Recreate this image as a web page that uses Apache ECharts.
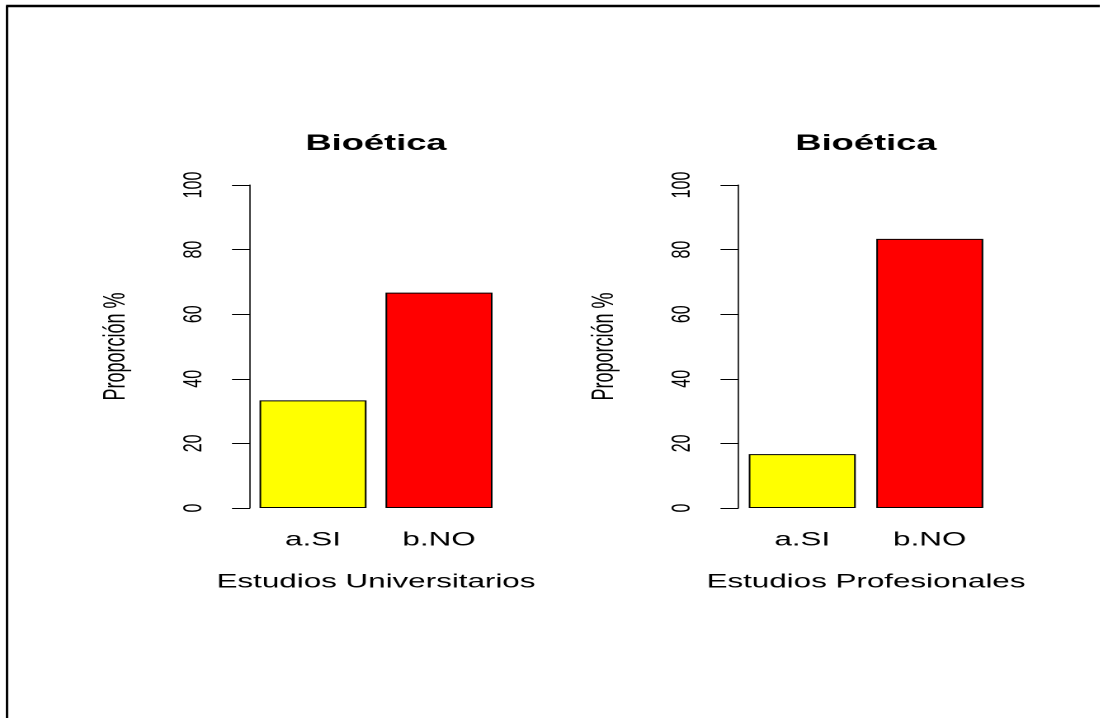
<!DOCTYPE html>
<html>
<head>
<meta charset="utf-8">
<script src="https://cdn.jsdelivr.net/npm/echarts@6/dist/echarts.min.js"></script>
<style>
  html, body { margin: 0; padding: 0; background: #ffffff; overflow: hidden; }
  #wrap { width: 1100px; height: 718px; position: relative; overflow: hidden; background: #fff; }
  #chart { position: absolute; left: 0; top: 0; height: 718px; transform-origin: 0 0; }
</style>
</head>
<body>
<div id="wrap"><div id="chart"></div></div>
<script>
// ---- data ----
const categories = ['a.SI', 'b.NO'];
const universitarios = [33.33, 66.67];
const profesionales = [16.67, 83.33];
const barColors = ['#FFFF00', '#FF0000'];
const panelTitles = ['Bioética', 'Bioética'];
const xNames = ['Estudios Universitarios', 'Estudios Profesionales'];
const yName = 'Proporción %';
const yMin = 0, yMax = 100, yStep = 20;

// the reference is horizontally stretched; draw narrower and stretch the canvas
const SX = 1.65;
const px = x => x / SX;
const el = document.getElementById('chart');
el.style.width = (1100 / SX) + 'px';
el.style.transform = 'scaleX(' + SX + ')';

const FONT = 'Liberation Sans, Arial, sans-serif';
const chart = echarts.init(el, null, { renderer: 'canvas', devicePixelRatio: 2 });

const panels = [
  { left: 250, width: 252, values: universitarios },
  { left: 738.5, width: 255, values: profesionales }
];

const grids = panels.map(p => ({ left: px(p.left), width: px(p.width), top: 185, height: 323 }));

const xAxes = panels.map((p, i) => ({
  type: 'category', gridIndex: i, data: categories,
  axisLine: { show: false }, axisTick: { show: false },
  axisLabel: { color: '#000', fontFamily: FONT, fontSize: 19, margin: 23 },
  name: xNames[i], nameLocation: 'middle', nameGap: 65,
  nameTextStyle: { color: '#000', fontFamily: FONT, fontSize: 19 }
}));

const yAxes = panels.map((p, i) => ({
  type: 'value', gridIndex: i, min: yMin, max: yMax, interval: yStep,
  splitLine: { show: false },
  axisLine: { show: true, lineStyle: { color: '#222', width: 0.9 } },
  axisTick: { show: true, length: px(18), lineStyle: { color: '#000', width: 1 } },
  axisLabel: { color: '#000', fontFamily: FONT, fontSize: 16, rotate: 90, margin: 26 },
  name: yName, nameLocation: 'middle', nameRotate: 90, nameGap: 72,
  nameTextStyle: { color: '#000', fontFamily: FONT, fontSize: 18 }
}));

const series = panels.map((p, i) => ({
  type: 'bar', xAxisIndex: i, yAxisIndex: i,
  barWidth: px(107),
  data: p.values.map((v, j) => ({ value: v, itemStyle: { color: barColors[j] } })),
  itemStyle: { borderColor: '#000', borderWidth: 1 },
  emphasis: { disabled: true },
  animation: false
}));

const titles = panels.map((p, i) => ({
  text: panelTitles[i],
  left: px(p.left + p.width / 2), top: 133, textAlign: 'center', padding: 0,
  textStyle: { color: '#000', fontFamily: FONT, fontSize: 22, fontWeight: 'bold' }
}));

chart.setOption({
  backgroundColor: '#ffffff',
  animation: false,
  title: titles,
  grid: grids,
  xAxis: xAxes,
  yAxis: yAxes,
  series: series,
  graphic: [
    { type: 'line', shape: { x1: px(7), y1: 6, x2: px(7), y2: 718 }, style: { stroke: '#000', lineWidth: 2.4 / SX } },
    { type: 'line', shape: { x1: px(6), y1: 6, x2: 1100 / SX, y2: 6 }, style: { stroke: '#000', lineWidth: 2.4 } }
  ]
});
</script>
</body>
</html>
